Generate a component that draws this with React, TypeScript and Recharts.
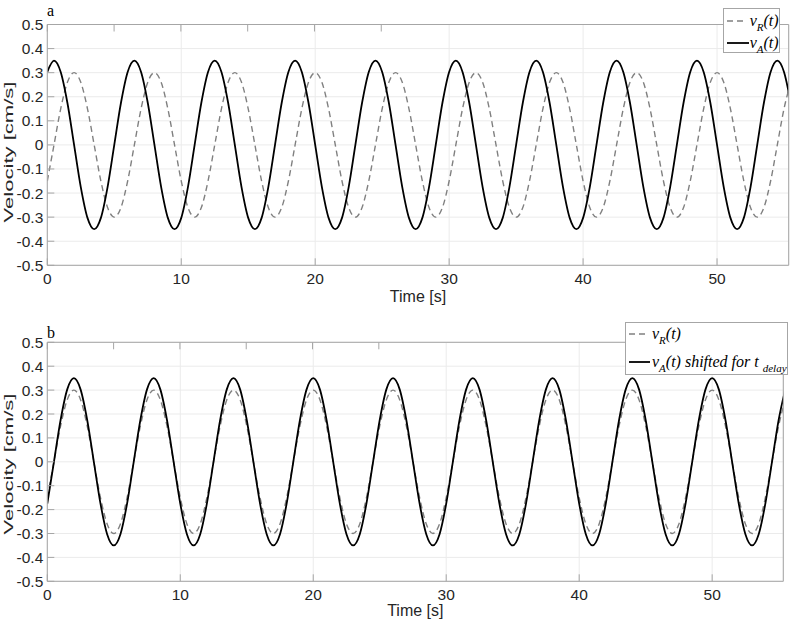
import React from 'react';
import { LineChart, Line, XAxis, YAxis, CartesianGrid } from 'recharts';

// time samples [s]
const time = [
  0, 0.5, 1, 1.5, 2, 2.5, 3, 3.5, 4, 4.5, 5, 5.5,
  6, 6.5, 7, 7.5, 8, 8.5, 9, 9.5, 10, 10.5, 11, 11.5,
  12, 12.5, 13, 13.5, 14, 14.5, 15, 15.5, 16, 16.5, 17, 17.5,
  18, 18.5, 19, 19.5, 20, 20.5, 21, 21.5, 22, 22.5, 23, 23.5,
  24, 24.5, 25, 25.5, 26, 26.5, 27, 27.5, 28, 28.5, 29, 29.5,
  30, 30.5, 31, 31.5, 32, 32.5, 33, 33.5, 34, 34.5, 35, 35.5,
  36, 36.5, 37, 37.5, 38, 38.5, 39, 39.5, 40, 40.5, 41, 41.5,
  42, 42.5, 43, 43.5, 44, 44.5, 45, 45.5, 46, 46.5, 47, 47.5,
  48, 48.5, 49, 49.5, 50, 50.5, 51, 51.5, 52, 52.5, 53, 53.5,
  54, 54.5, 55, 55.5,
];

// v_R(t) [cm/s], same in both panels
const vR = [
  -0.15, 0, 0.15, 0.26, 0.3, 0.26, 0.15, 0, -0.15, -0.26, -0.3, -0.26,
  -0.15, 0, 0.15, 0.26, 0.3, 0.26, 0.15, 0, -0.15, -0.26, -0.3, -0.26,
  -0.15, 0, 0.15, 0.26, 0.3, 0.26, 0.15, 0, -0.15, -0.26, -0.3, -0.26,
  -0.15, 0, 0.15, 0.26, 0.3, 0.26, 0.15, 0, -0.15, -0.26, -0.3, -0.26,
  -0.15, 0, 0.15, 0.26, 0.3, 0.26, 0.15, 0, -0.15, -0.26, -0.3, -0.26,
  -0.15, 0, 0.15, 0.26, 0.3, 0.26, 0.15, 0, -0.15, -0.26, -0.3, -0.26,
  -0.15, 0, 0.15, 0.26, 0.3, 0.26, 0.15, 0, -0.15, -0.26, -0.3, -0.26,
  -0.15, 0, 0.15, 0.26, 0.3, 0.26, 0.15, 0, -0.15, -0.26, -0.3, -0.26,
  -0.15, 0, 0.15, 0.26, 0.3, 0.26, 0.15, 0, -0.15, -0.26, -0.3, -0.26,
  -0.15, 0, 0.15, 0.26,
];

// v_A(t) [cm/s], panel a
const vA = [
  0.303, 0.35, 0.303, 0.175, 0, -0.175, -0.303, -0.35, -0.303, -0.175, 0, 0.175,
  0.303, 0.35, 0.303, 0.175, 0, -0.175, -0.303, -0.35, -0.303, -0.175, 0, 0.175,
  0.303, 0.35, 0.303, 0.175, 0, -0.175, -0.303, -0.35, -0.303, -0.175, 0, 0.175,
  0.303, 0.35, 0.303, 0.175, 0, -0.175, -0.303, -0.35, -0.303, -0.175, 0, 0.175,
  0.303, 0.35, 0.303, 0.175, 0, -0.175, -0.303, -0.35, -0.303, -0.175, 0, 0.175,
  0.303, 0.35, 0.303, 0.175, 0, -0.175, -0.303, -0.35, -0.303, -0.175, 0, 0.175,
  0.303, 0.35, 0.303, 0.175, 0, -0.175, -0.303, -0.35, -0.303, -0.175, 0, 0.175,
  0.303, 0.35, 0.303, 0.175, 0, -0.175, -0.303, -0.35, -0.303, -0.175, 0, 0.175,
  0.303, 0.35, 0.303, 0.175, 0, -0.175, -0.303, -0.35, -0.303, -0.175, 0, 0.175,
  0.303, 0.35, 0.303, 0.175,
];

// v_A(t) shifted for t_delay [cm/s], panel b
const vAShifted = [
  -0.175, 0, 0.175, 0.303, 0.35, 0.303, 0.175, 0, -0.175, -0.303, -0.35, -0.303,
  -0.175, 0, 0.175, 0.303, 0.35, 0.303, 0.175, 0, -0.175, -0.303, -0.35, -0.303,
  -0.175, 0, 0.175, 0.303, 0.35, 0.303, 0.175, 0, -0.175, -0.303, -0.35, -0.303,
  -0.175, 0, 0.175, 0.303, 0.35, 0.303, 0.175, 0, -0.175, -0.303, -0.35, -0.303,
  -0.175, 0, 0.175, 0.303, 0.35, 0.303, 0.175, 0, -0.175, -0.303, -0.35, -0.303,
  -0.175, 0, 0.175, 0.303, 0.35, 0.303, 0.175, 0, -0.175, -0.303, -0.35, -0.303,
  -0.175, 0, 0.175, 0.303, 0.35, 0.303, 0.175, 0, -0.175, -0.303, -0.35, -0.303,
  -0.175, 0, 0.175, 0.303, 0.35, 0.303, 0.175, 0, -0.175, -0.303, -0.35, -0.303,
  -0.175, 0, 0.175, 0.303, 0.35, 0.303, 0.175, 0, -0.175, -0.303, -0.35, -0.303,
  -0.175, 0, 0.175, 0.303,
];

const xTicks = [0, 10, 20, 30, 40, 50];
const yTicks = [-0.5, -0.4, -0.3, -0.2, -0.1, 0, 0.1, 0.2, 0.3, 0.4, 0.5];

const topData = time.map((t, i) => ({ t, vR: vR[i], vA: vA[i] }));
const bottomData = time.map((t, i) => ({ t, vR: vR[i], vA: vAShifted[i] }));

const sans = '"Liberation Sans", Arial, sans-serif';
const serif = '"Liberation Serif", "Times New Roman", serif';
const axisGrey = '#a6a6a6';
const gridGrey = '#ebebeb';
const textGrey = '#262626';

const fmtY = (v: number) => (v === 0 ? '0' : v.toFixed(1));
const blank = () => '';
const tickStyle = { fill: textGrey, fontSize: 15.5, fontFamily: sans };

const Panel = ({ data, height, margin, labelOffset }: any) => (
  <LineChart width={790} height={height} data={data} margin={margin}>
    <CartesianGrid stroke={gridGrey} strokeWidth={1} />
    <XAxis
      dataKey="t"
      type="number"
      domain={[0, 55.35]}
      allowDataOverflow
      ticks={xTicks}
      interval={0}
      height={margin.xh}
      tickSize={-7}
      tickMargin={15}
      stroke={axisGrey}
      fontSize={15.5}
      fontFamily={sans}
      tick={tickStyle}
      label={{ value: 'Time [s]', position: 'insideBottom', offset: labelOffset, fill: textGrey, fontSize: 16, fontFamily: sans }}
    />
    <XAxis
      xAxisId="top"
      orientation="top"
      type="number"
      domain={[0, 55.35]}
      allowDataOverflow
      ticks={xTicks}
      interval={0}
      height={1}
      tickSize={-7}
      stroke={axisGrey}
      tickFormatter={blank}
    />
    <YAxis
      type="number"
      domain={[-0.5, 0.5]}
      ticks={yTicks}
      interval={0}
      width={40}
      tickSize={-7}
      tickMargin={11}
      stroke={axisGrey}
      fontSize={15.5}
      fontFamily={sans}
      tick={tickStyle}
      tickFormatter={fmtY}
    />
    <YAxis
      yAxisId="right"
      orientation="right"
      type="number"
      domain={[-0.5, 0.5]}
      ticks={yTicks}
      interval={0}
      width={1}
      tickSize={-7}
      stroke={axisGrey}
      tickFormatter={blank}
    />
    <Line
      type="monotone"
      dataKey="vR"
      stroke="#808080"
      strokeWidth={1.4}
      strokeDasharray="6 4"
      dot={false}
      isAnimationActive={false}
    />
    <Line
      type="monotone"
      dataKey="vA"
      stroke="#000000"
      strokeWidth={1.8}
      dot={false}
      isAnimationActive={false}
    />
  </LineChart>
);

const Sample = ({ dashed, width }: any) => (
  <svg width={width} height={20} style={{ position: 'absolute', left: 2, top: 0 }}>
    <line
      x1={1}
      x2={width}
      y1={10}
      y2={10}
      stroke={dashed ? '#808080' : '#000'}
      strokeWidth={dashed ? 1.4 : 1.8}
      strokeDasharray={dashed ? '6 4' : undefined}
    />
  </svg>
);

const sub = { fontSize: 11, position: 'relative' as const, top: 5 };

const LegendRow = ({ center, dashed, sampleW, textLeft, children }: any) => (
  <div style={{ position: 'absolute', left: 0, top: center - 10, height: 20, width: '100%' }}>
    <Sample dashed={dashed} width={sampleW} />
    <div style={{ position: 'absolute', left: textLeft, top: 0, lineHeight: '20px', whiteSpace: 'nowrap' }}>
      {children}
    </div>
  </div>
);

const boxStyle = (left: number, top: number, width: number, height: number) => ({
  position: 'absolute' as const,
  left,
  top,
  width,
  height,
  boxSizing: 'border-box' as const,
  border: `1px solid ${axisGrey}`,
  background: '#fff',
  fontFamily: serif,
  fontStyle: 'italic',
  fontSize: 16,
  color: '#000',
});

export default function App() {
  return (
    <div style={{ position: 'absolute', left: 0, top: 0, width: 790, height: 621, background: '#fff' }}>
      <div style={{ position: 'absolute', left: 0, top: 0 }}>
        <Panel
          data={topData}
          height={310}
          margin={{ top: 23.5, right: 0.3, bottom: 4.7, left: 7.3, xh: 40 }}
          labelOffset={3.6}
        />
      </div>
      <div style={{ position: 'absolute', left: 0, top: 310 }}>
        <Panel
          data={bottomData}
          height={311}
          margin={{ top: 31.3, right: 5.7, bottom: 1.7, left: 7.3, xh: 38 }}
          labelOffset={3.3}
        />
      </div>

      <svg width={790} height={621} style={{ position: 'absolute', left: 0, top: 0, pointerEvents: 'none' }}>
        <text x={47} y={16} fontFamily={serif} fontSize={16} fill="#000">a</text>
        <text x={47} y={338} fontFamily={serif} fontSize={16} fill="#000">b</text>
        <text
          x={13}
          y={152}
          transform="rotate(-90 13 152)"
          textAnchor="middle"
          fontFamily={sans}
          fontSize={13}
          fill={textGrey}
          textLength={141}
          lengthAdjust="spacingAndGlyphs"
        >
          Velocity [cm/s]
        </text>
        <text
          x={13}
          y={464}
          transform="rotate(-90 13 464)"
          textAnchor="middle"
          fontFamily={sans}
          fontSize={13}
          fill={textGrey}
          textLength={141}
          lengthAdjust="spacingAndGlyphs"
        >
          Velocity [cm/s]
        </text>
      </svg>

      <div style={boxStyle(722.7, 8.3, 57.3, 45)}>
        <LegendRow center={11.7} dashed sampleW={17} textLeft={26}>
          v<span style={sub}>R</span>(t)
        </LegendRow>
        <LegendRow center={33.4} sampleW={23} textLeft={26}>
          v<span style={sub}>A</span>(t)
        </LegendRow>
      </div>

      <div style={boxStyle(625, 321.7, 163.3, 53.3)}>
        <LegendRow center={11.6} dashed sampleW={20} textLeft={26}>
          v<span style={sub}>R</span>(t)
        </LegendRow>
        <LegendRow center={39} sampleW={22} textLeft={26}>
          v<span style={sub}>A</span>(t) shifted for t <span style={sub}>delay</span>
        </LegendRow>
      </div>
    </div>
  );
}
